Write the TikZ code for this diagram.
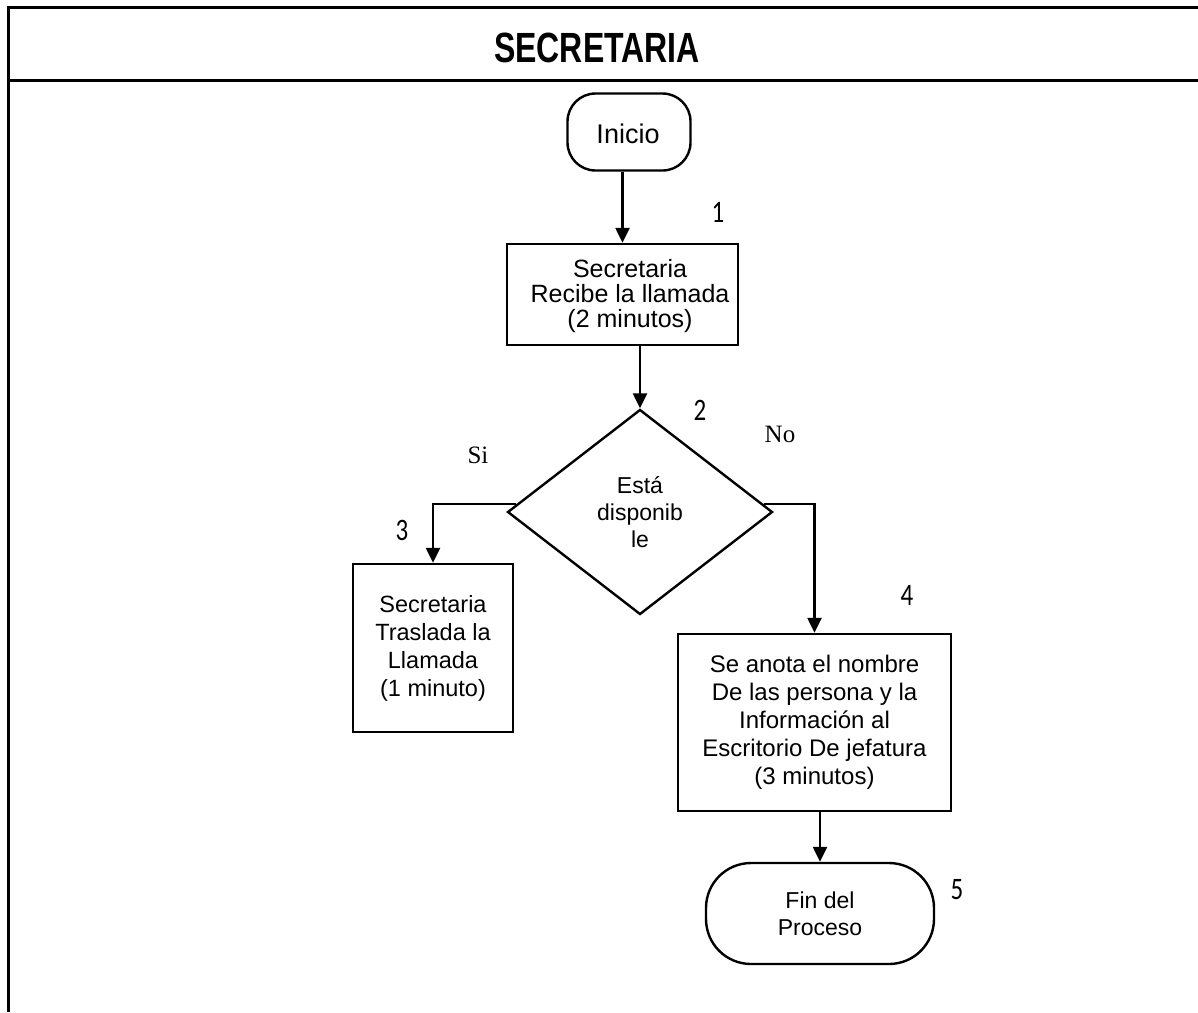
\documentclass[tikz,border=0pt]{standalone}
\usepackage{graphicx}
\usepackage{fontspec}
\setmainfont{Liberation Sans}
\newfontfamily\serifnote{Liberation Serif}
\newfontfamily\stepnum{Carlito}
\usetikzlibrary{shapes.geometric,arrows.meta}
\newcommand{\tallnum}[1]{\scalebox{1}[1.25]{#1}}
\begin{document}
\begin{tikzpicture}[x=1pt,y=-1pt,
  frame/.style={line width=3pt},
  term/.style={draw,line width=2.4pt,rounded corners=#1,align=center,
    font=\fontsize{23}{27}\selectfont,inner sep=0pt},
  proc/.style={draw,line width=2.4pt,align=center,
    font=\fontsize{23.5}{28}\selectfont,inner sep=0pt},
  decision/.style={draw,diamond,line width=2.4pt,align=center,
    font=\fontsize{23}{27}\selectfont,inner sep=0pt},
  flow/.style={line width=2.4pt,-{Triangle[length=15pt,width=14pt]}},
  num/.style={font=\stepnum\fontsize{25}{28}\selectfont,inner sep=0pt},
  answer/.style={font=\serifnote\fontsize{25}{28}\selectfont,inner sep=0pt}]
\useasboundingbox (0,0) rectangle (1198,1012);
\fill[white] (0,0) rectangle (1198,1012);

% page frame and header band
\draw[frame] (8,1012) -- (8,7) -- (1198,7);
\draw[frame] (8,80) -- (1198,80);
\node[font=\bfseries\fontsize{32}{36}\selectfont] (title) at (597,48)
  {\scalebox{1}[1.32]{SECRETARIA}};

% flow nodes
\node[term=28pt,minimum width=123pt,minimum height=77pt] (inicio) at (629,132) {};
\node[font=\fontsize{27}{30}\selectfont,inner sep=0pt] (iniciotxt) at (628,134) {Inicio};
\node[proc,minimum width=231pt,minimum height=101pt] (recibe) at (622.5,294.5) {};
\node[font=\fontsize{25}{25}\selectfont,align=center,inner sep=0pt]
      (recibetxt) at (630,296) {Secretaria\\Recibe la llamada\\(2 minutos)};
\node[decision,minimum width=265pt,minimum height=205pt] (disp) at (640,512)
      {Está\\disponib\\le};
\node[proc,minimum width=160pt,minimum height=168pt] (traslada) at (433,648)
      {Secretaria\\Traslada la\\Llamada\\(1 minuto)};
\node[proc,minimum width=273pt,minimum height=177pt,
      font=\fontsize{24}{28}\selectfont] (anota) at (814.5,722.5)
      {Se anota el nombre\\De las persona y la\\Información al\\Escritorio De jefatura\\(3 minutos)};
\node[term=45pt,minimum width=228pt,minimum height=101pt] (fin) at (820,913.5)
      {Fin del\\Proceso};

% step numbers and branch answers
\node[num] (n1) at (718,212) {\tallnum{1}};
\node[num] (n2) at (700,410) {\tallnum{2}};
\node[num] (n3) at (402,530) {\tallnum{3}};
\node[num] (n4) at (907,595) {\tallnum{4}};
\node[num] (n5) at (957,890) {\tallnum{5}};
\node[answer] (si) at (478,455) {Si};
\node[answer] (no) at (780,434) {No};

% connectors
\draw[flow] (recibe.north |- inicio.south) -- (recibe.north);
\draw[flow] (disp.north |- recibe.south) -- (disp.north);
\draw[flow] ([xshift=10pt,yshift=8pt]disp.west) -| (traslada.north);
\draw[flow] ([xshift=-10pt,yshift=8pt]disp.east) -| (anota.north);
\draw[flow] (fin.north |- anota.south) -- (fin.north);
\end{tikzpicture}
\end{document}
